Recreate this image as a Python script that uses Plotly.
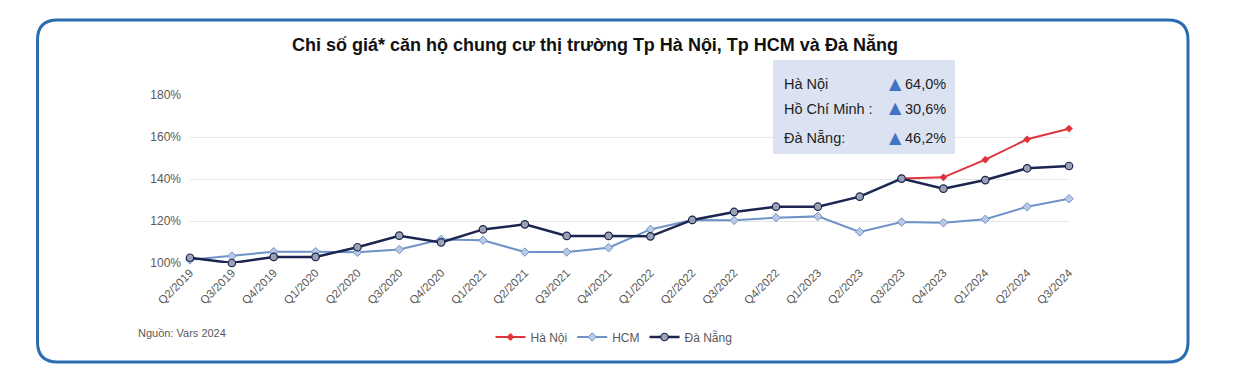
import plotly.graph_objects as go

quarters = ["Q2/2019", "Q3/2019", "Q4/2019", "Q1/2020", "Q2/2020", "Q3/2020", "Q4/2020",
            "Q1/2021", "Q2/2021", "Q3/2021", "Q4/2021", "Q1/2022", "Q2/2022", "Q3/2022",
            "Q4/2022", "Q1/2023", "Q2/2023", "Q3/2023", "Q4/2023", "Q1/2024", "Q2/2024", "Q3/2024"]
ha_noi = [None] * 17 + [140.2, 140.8, 149.2, 158.9, 164.0]
hcm = [101.5, 103.3, 105.4, 105.4, 105.1, 106.4, 111.2, 110.8, 105.2, 105.2, 107.3, 116.0,
       120.5, 120.3, 121.6, 122.2, 114.8, 119.5, 119.2, 120.8, 126.8, 130.6]
da_nang = [102.5, 100.0, 102.9, 102.9, 107.5, 113.0, 109.8, 116.0, 118.4, 112.9, 112.9, 112.7,
           120.5, 124.3, 126.8, 126.8, 131.6, 140.2, 135.4, 139.5, 145.1, 146.2]
y_ticks = [100, 120, 140, 160, 180]
y_tick_labels = ["100%", "120%", "140%", "160%", "180%"]
box_names = ["Hà Nội", "Hồ Chí Minh :", "Đà Nẵng:"]
box_values = ["64,0%", "30,6%", "46,2%"]

W, H = 1242, 385
L, R, T, B = 190, 173, 95, 122
PW, PH = W - L - R, H - T - B


def fx(px):
    return (px - L) / PW


def fy(py):
    return (H - B - py) / PH


FONT = "Liberation Sans, Arial, sans-serif"
GRAY = "#595959"

fig = go.Figure()
fig.add_trace(go.Scatter(
    x=quarters, y=ha_noi, name="Hà Nội", mode="lines+markers",
    line=dict(color="#e0343c", width=2),
    marker=dict(symbol="diamond", size=6, color="#e0343c"),
    cliponaxis=False))
fig.add_trace(go.Scatter(
    x=quarters, y=hcm, name="HCM", mode="lines+markers",
    line=dict(color="#6f92c8", width=2),
    marker=dict(symbol="diamond", size=6.5, color="#b9c9e4", line=dict(color="#6f92c8", width=1)),
    cliponaxis=False))
fig.add_trace(go.Scatter(
    x=quarters, y=da_nang, name="Đà Nẵng", mode="lines+markers",
    line=dict(color="#1b2550", width=2.5),
    marker=dict(symbol="circle", size=7.5, color="#9aa2b3", line=dict(color="#1b2550", width=1.2)),
    cliponaxis=False))

# Rounded outer frame
x0, x1 = fx(37.5), fx(1188)
y0, y1 = fy(362), fy(20)
rx, ry = 20 / PW, 20 / PH
path = (f"M {x0 + rx},{y1} L {x1 - rx},{y1} Q {x1},{y1} {x1},{y1 - ry} "
        f"L {x1},{y0 + ry} Q {x1},{y0} {x1 - rx},{y0} L {x0 + rx},{y0} "
        f"Q {x0},{y0} {x0},{y0 + ry} L {x0},{y1 - ry} Q {x0},{y1} {x0 + rx},{y1} Z")
shapes = [dict(type="path", xref="paper", yref="paper", path=path,
               line=dict(color="#2b6cb0", width=3), layer="below"),
          dict(type="rect", xref="paper", yref="paper", x0=fx(773), x1=fx(955),
               y0=fy(154), y1=fy(60), fillcolor="#dbe3f2", line=dict(width=0), layer="above")]

annotations = [
    dict(text="<b>Chỉ số giá* căn hộ chung cư thị trường Tp Hà Nội, Tp HCM và Đà Nẵng</b>",
         x=fx(595), y=fy(44), xref="paper", yref="paper", showarrow=False,
         font=dict(family=FONT, size=18, color="#111111"), xanchor="center", yanchor="middle"),
    dict(text="Nguồn: Vars 2024", x=fx(136), y=fy(333), xref="paper", yref="paper",
         showarrow=False, font=dict(family=FONT, size=11, color=GRAY),
         xanchor="left", yanchor="middle"),
]
box_y = [84, 109, 138]
for name, val, py in zip(box_names, box_values, box_y):
    annotations.append(dict(text=name, x=fx(782), y=fy(py), xref="paper", yref="paper",
                            showarrow=False, font=dict(family=FONT, size=14.5, color="#222222"),
                            xanchor="left", yanchor="middle"))
    annotations.append(dict(text="▲", x=fx(895), y=fy(py - 1), xref="paper", yref="paper",
                            showarrow=False, font=dict(family="DejaVu Sans", size=16, color="#4472c4"),
                            xanchor="center", yanchor="middle"))
    annotations.append(dict(text=val, x=fx(948), y=fy(py), xref="paper", yref="paper",
                            showarrow=False, font=dict(family=FONT, size=14.5, color="#222222"),
                            xanchor="right", yanchor="middle"))

fig.update_layout(
    width=W, height=H, margin=dict(l=L, r=R, t=T, b=B, autoexpand=False),
    paper_bgcolor="white", plot_bgcolor="white",
    font=dict(family=FONT, color=GRAY),
    showlegend=True,
    legend=dict(orientation="h", x=fx(614), y=fy(337), xref="paper", yref="paper",
                xanchor="center", yanchor="middle", font=dict(size=12, color=GRAY),
                itemwidth=30, tracegroupgap=0, bgcolor="rgba(0,0,0,0)"),
    xaxis=dict(type="category", tickangle=-45, tickfont=dict(size=11.5, color=GRAY),
               showgrid=False, showline=False, zeroline=False, ticks="",
               range=[0, len(quarters) - 1]),
    yaxis=dict(range=[100, 180], tickvals=y_ticks, ticktext=y_tick_labels,
               tickfont=dict(size=12, color=GRAY), showgrid=True, gridcolor="#e6e6e6",
               gridwidth=1, zeroline=False, showline=False, ticks="", ticklabelstandoff=8),
    shapes=shapes, annotations=annotations,
)

fig.write_html("out.html", config={"displayModeBar": False},
               post_script="document.body.style.margin='0px';")
